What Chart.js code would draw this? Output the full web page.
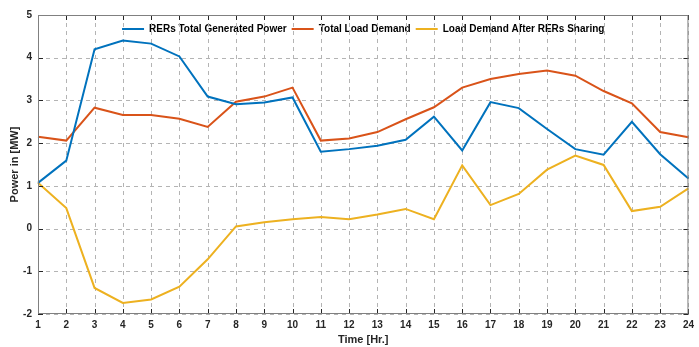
<!DOCTYPE html>
<html>
<head>
<meta charset="utf-8">
<script src="https://cdn.jsdelivr.net/npm/chart.js@4"></script>
<style>
  html, body { margin: 0; padding: 0; background: #fff; }
  #wrap { width: 699px; height: 347px; }
</style>
</head>
<body>
<div id="wrap"><canvas id="chartPower"></canvas></div>
<script>
const hours = ['1','2','3','4','5','6','7','8','9','10','11','12',
               '13','14','15','16','17','18','19','20','21','22','23','24'];

const rersGenerated = [1.07, 1.59, 4.20, 4.40, 4.33, 4.03, 3.09, 2.91, 2.95, 3.07, 1.80, 1.86,
                       1.94, 2.08, 2.62, 1.83, 2.96, 2.82, 2.33, 1.86, 1.73, 2.50, 1.74, 1.17];

const totalLoad = [2.15, 2.06, 2.83, 2.66, 2.66, 2.57, 2.38, 2.97, 3.09, 3.30, 2.06, 2.11,
                   2.26, 2.56, 2.84, 3.30, 3.50, 3.62, 3.70, 3.58, 3.22, 2.93, 2.26, 2.14];

const loadAfterSharing = [1.07, 0.48, -1.39, -1.74, -1.66, -1.36, -0.72, 0.05, 0.15, 0.22, 0.27, 0.22,
                          0.33, 0.46, 0.22, 1.48, 0.55, 0.81, 1.38, 1.71, 1.49, 0.41, 0.51, 0.94];

const yTicks = [-2, -1, 0, 1, 2, 3, 4, 5];

// legend sits inside the axes at the top, so it must not take layout space
const insideLegend = {
  id: 'insideLegend',
  beforeLayout(chart) {
    const lg = chart.legend;
    if (lg && !lg._patched) {
      const fit = lg.fit.bind(lg);
      lg.fit = function () { fit(); this._realHeight = this.height; this.height = 0; };
      lg._patched = true;
    }
  },
  afterLayout(chart) {
    const lg = chart.legend;
    const a = chart.chartArea;
    lg.left = a.left;
    lg.right = a.right;
    lg.width = a.right - a.left;
    lg.top = a.top + 4;
    lg.height = lg._realHeight;
    lg.bottom = lg.top + lg.height;
  }
};

// dashed grid, drawn from the scales' own tick pixels
const gridPlugin = {
  id: 'dashGrid',
  beforeDatasetsDraw(chart) {
    const a = chart.chartArea;
    const c = chart.ctx;
    const x = chart.scales.x, y = chart.scales.y;
    c.save();
    c.strokeStyle = '#b4b4b4';
    c.lineWidth = 1;
    c.setLineDash([4, 4]);
    c.beginPath();
    x.ticks.forEach((t, i) => {
      const px = Math.round(x.getPixelForTick(i)) + 0.5;
      c.moveTo(px, a.top); c.lineTo(px, a.bottom);
    });
    y.ticks.forEach((t, i) => {
      const py = Math.round(y.getPixelForTick(i)) + 0.5;
      c.moveTo(a.left, py); c.lineTo(a.right, py);
    });
    c.stroke();
    c.restore();
  }
};

// matlab style box with inward ticks on all four sides
const boxPlugin = {
  id: 'box',
  afterDraw(chart) {
    const a = chart.chartArea;
    const c = chart.ctx;
    const x = chart.scales.x, y = chart.scales.y;
    c.save();
    c.strokeStyle = '#262626';
    c.lineWidth = 1;
    c.beginPath();
    x.ticks.forEach((t, i) => {
      const px = Math.round(x.getPixelForTick(i)) + 0.5;
      c.moveTo(px, a.bottom); c.lineTo(px, a.bottom - 5);
      c.moveTo(px, a.top); c.lineTo(px, a.top + 5);
    });
    y.ticks.forEach((t, i) => {
      const py = Math.round(y.getPixelForTick(i)) + 0.5;
      c.moveTo(a.left, py); c.lineTo(a.left + 5, py);
      c.moveTo(a.right, py); c.lineTo(a.right - 5, py);
    });
    c.stroke();
    c.strokeStyle = '#808080';
    c.strokeRect(a.left + 0.5, a.top + 0.5, a.right - a.left - 1, a.bottom - a.top - 1);
    c.restore();
  }
};

const font = { family: 'Liberation Sans, Arial, sans-serif', size: 10, weight: 'bold' };
const titleFont = { family: 'Liberation Sans, Arial, sans-serif', size: 11, weight: 'bold' };

function line(label, data, color) {
  return {
    label: label,
    data: data,
    borderColor: color,
    backgroundColor: color,
    borderWidth: 2,
    pointRadius: 0,
    pointStyle: 'line',
    tension: 0
  };
}

const ctx = document.getElementById('chartPower');
new Chart(ctx, {
  type: 'line',
  data: {
    labels: hours,
    datasets: [
      line('RERs Total Generated Power', rersGenerated, '#0072BD'),
      line('Total Load Demand', totalLoad, '#D95319'),
      line('Load Demand After RERs Sharing', loadAfterSharing, '#EDB120')
    ]
  },
  options: {
    responsive: true,
    maintainAspectRatio: false,
    animation: false,
    layout: { padding: { top: 15, right: 5, left: 0, bottom: 0 } },
    plugins: {
      legend: {
        position: 'top',
        align: 'center',
        labels: {
          usePointStyle: true,
          pointStyleWidth: 22,
          color: '#000',
          font: font,
          padding: 5
        }
      },
      tooltip: { enabled: false }
    },
    scales: {
      x: {
        offset: false,
        afterFit(s) { s.height = 33; },
        grid: { display: false, drawTicks: false },
        border: { display: false },
        ticks: { color: '#262626', font: font, maxRotation: 0, autoSkip: false, padding: 5 },
        title: { display: true, text: 'Time [Hr.]', color: '#262626', font: titleFont, padding: { top: 0, bottom: 0 } }
      },
      y: {
        min: -2,
        max: 5,
        afterFit(s) { s.width = 38; },
        afterBuildTicks(s) { s.ticks = yTicks.map(v => ({ value: v })); },
        grid: { display: false, drawTicks: false },
        border: { display: false },
        ticks: { color: '#262626', font: font, padding: 6 },
        title: { display: true, text: 'Power in [MW]', color: '#262626', font: titleFont, padding: { top: 8, bottom: 0 } }
      }
    }
  },
  plugins: [insideLegend, gridPlugin, boxPlugin]
});
</script>
</body>
</html>
